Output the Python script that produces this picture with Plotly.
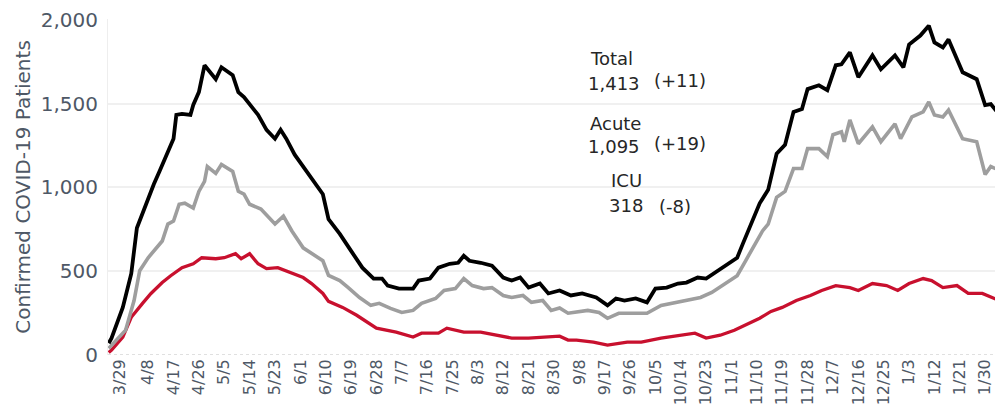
import plotly.graph_objects as go

# Дата -> пациенты
total_dates = [
    "2020-03-25", "2020-03-26", "2020-03-30", "2020-04-02", "2020-04-04", "2020-04-08",
    "2020-04-10", "2020-04-12", "2020-04-15", "2020-04-17", "2020-04-18", "2020-04-20",
    "2020-04-23", "2020-04-24", "2020-04-26", "2020-04-28", "2020-05-02", "2020-05-04",
    "2020-05-08", "2020-05-10", "2020-05-12", "2020-05-17", "2020-05-20", "2020-05-23",
    "2020-05-25", "2020-05-27", "2020-05-30", "2020-06-04", "2020-06-09", "2020-06-11",
    "2020-06-15", "2020-06-19", "2020-06-23", "2020-06-27", "2020-06-30", "2020-07-02",
    "2020-07-06", "2020-07-11", "2020-07-13", "2020-07-17", "2020-07-20", "2020-07-24",
    "2020-07-27", "2020-07-29", "2020-07-31", "2020-08-04", "2020-08-08", "2020-08-12",
    "2020-08-15", "2020-08-18", "2020-08-21", "2020-08-25", "2020-08-28", "2020-09-01",
    "2020-09-05", "2020-09-09", "2020-09-14", "2020-09-18", "2020-09-21", "2020-09-24",
    "2020-09-28", "2020-10-02", "2020-10-05", "2020-10-09", "2020-10-13", "2020-10-16",
    "2020-10-20", "2020-10-23", "2020-10-27", "2020-10-30", "2020-11-03", "2020-11-05",
    "2020-11-08", "2020-11-11", "2020-11-14", "2020-11-17", "2020-11-20", "2020-11-23",
    "2020-11-26", "2020-11-28", "2020-12-02", "2020-12-05", "2020-12-08", "2020-12-10",
    "2020-12-13", "2020-12-16", "2020-12-21", "2020-12-24", "2020-12-29", "2021-01-01",
    "2021-01-03", "2021-01-07", "2021-01-10", "2021-01-12", "2021-01-15", "2021-01-17",
    "2021-01-22", "2021-01-27", "2021-01-30", "2021-02-01", "2021-02-05",
]
total_values = [
    70, 100, 284, 485, 757, 935,
    1018, 1095, 1213, 1290, 1432, 1438,
    1432, 1491, 1568, 1728, 1645, 1716,
    1669, 1568, 1538, 1432, 1343, 1290,
    1343, 1290, 1195, 1077, 959, 810,
    722, 621, 521, 456, 456, 414,
    396, 396, 444, 456, 521, 544,
    550, 592, 562, 550, 533, 462,
    444, 462, 402, 426, 367, 385,
    355, 367, 343, 296, 337, 325,
    337, 314, 396, 402, 426, 432,
    462, 456, 503, 533, 580, 663,
    781, 905, 985, 1200, 1254, 1450,
    1467, 1586, 1609, 1580, 1728, 1734,
    1805, 1657, 1787, 1704, 1787, 1716,
    1852, 1905, 1964, 1864, 1834, 1882,
    1686, 1645, 1491, 1497, 1413,
]

acute_dates = [
    "2020-03-25", "2020-03-26", "2020-03-31", "2020-04-03", "2020-04-05", "2020-04-08",
    "2020-04-10", "2020-04-13", "2020-04-15", "2020-04-17", "2020-04-19", "2020-04-21",
    "2020-04-24", "2020-04-26", "2020-04-28", "2020-04-29", "2020-05-02", "2020-05-04",
    "2020-05-08", "2020-05-10", "2020-05-12", "2020-05-14", "2020-05-18", "2020-05-23",
    "2020-05-26", "2020-05-29", "2020-06-02", "2020-06-05", "2020-06-09", "2020-06-11",
    "2020-06-15", "2020-06-18", "2020-06-22", "2020-06-26", "2020-06-29", "2020-07-03",
    "2020-07-07", "2020-07-11", "2020-07-14", "2020-07-19", "2020-07-22", "2020-07-26",
    "2020-07-29", "2020-08-01", "2020-08-05", "2020-08-08", "2020-08-12", "2020-08-15",
    "2020-08-19", "2020-08-22", "2020-08-26", "2020-08-29", "2020-09-01", "2020-09-04",
    "2020-09-06", "2020-09-11", "2020-09-15", "2020-09-18", "2020-09-22", "2020-09-27",
    "2020-10-02", "2020-10-07", "2020-10-11", "2020-10-16", "2020-10-21", "2020-10-25",
    "2020-10-30", "2020-11-03", "2020-11-06", "2020-11-10", "2020-11-12", "2020-11-14",
    "2020-11-17", "2020-11-20", "2020-11-23", "2020-11-26", "2020-11-28", "2020-12-02",
    "2020-12-05", "2020-12-07", "2020-12-10", "2020-12-11", "2020-12-13", "2020-12-16",
    "2020-12-21", "2020-12-24", "2020-12-29", "2020-12-31", "2021-01-04", "2021-01-08",
    "2021-01-10", "2021-01-12", "2021-01-15", "2021-01-17", "2021-01-22", "2021-01-27",
    "2021-01-30", "2021-02-01", "2021-02-05",
]
acute_values = [
    40, 59, 148, 325, 503, 580,
    621, 680, 781, 799, 899, 905,
    876, 976, 1036, 1124, 1083, 1136,
    1095, 976, 959, 899, 870, 781,
    828, 740, 639, 604, 562, 475,
    444, 402, 343, 296, 308, 278,
    254, 266, 308, 337, 385, 396,
    456, 414, 396, 402, 355, 343,
    355, 314, 325, 266, 280, 249,
    254, 266, 254, 219, 249, 249,
    249, 296, 308, 325, 343, 373,
    426, 473, 562, 680, 740, 780,
    940, 976, 1112, 1112, 1231, 1231,
    1183, 1314, 1331, 1272, 1402, 1260,
    1361, 1272, 1379, 1290, 1420, 1450,
    1509, 1432, 1420, 1461, 1290, 1272,
    1077, 1124, 1095,
]

icu_dates = [
    "2020-03-25", "2020-03-26", "2020-03-30", "2020-04-02", "2020-04-06", "2020-04-09",
    "2020-04-13", "2020-04-16", "2020-04-20", "2020-04-24", "2020-04-27", "2020-05-02",
    "2020-05-05", "2020-05-09", "2020-05-11", "2020-05-14", "2020-05-17", "2020-05-20",
    "2020-05-24", "2020-05-27", "2020-06-02", "2020-06-05", "2020-06-09", "2020-06-11",
    "2020-06-16", "2020-06-21", "2020-06-25", "2020-06-28", "2020-07-05", "2020-07-11",
    "2020-07-14", "2020-07-20", "2020-07-23", "2020-07-29", "2020-08-04", "2020-08-10",
    "2020-08-15", "2020-08-21", "2020-08-27", "2020-09-01", "2020-09-04", "2020-09-07",
    "2020-09-13", "2020-09-18", "2020-09-25", "2020-09-30", "2020-10-07", "2020-10-13",
    "2020-10-19", "2020-10-23", "2020-10-28", "2020-11-02", "2020-11-06", "2020-11-11",
    "2020-11-15", "2020-11-19", "2020-11-24", "2020-11-29", "2020-12-03", "2020-12-08",
    "2020-12-13", "2020-12-16", "2020-12-21", "2020-12-26", "2020-12-30", "2021-01-03",
    "2021-01-08", "2021-01-11", "2021-01-15", "2021-01-20", "2021-01-24", "2021-01-29",
    "2021-02-05",
]
icu_values = [
    15, 30, 107, 225, 308, 367,
    432, 473, 521, 544, 580, 574,
    580, 604, 574, 604, 544, 515,
    521, 503, 462, 426, 367, 320,
    284, 237, 195, 160, 136, 107,
    130, 130, 160, 136, 136, 118,
    101, 101, 107, 112, 89, 89,
    77, 59, 77, 77, 101, 118,
    130, 101, 118, 148, 178, 219,
    260, 284, 325, 355, 385, 414,
    402, 385, 426, 414, 385, 426,
    456, 444, 402, 414, 367, 367,
    318,
]

tick_dates = [
    "2020-03-29", "2020-04-08", "2020-04-17", "2020-04-26", "2020-05-05", "2020-05-14",
    "2020-05-23", "2020-06-01", "2020-06-10", "2020-06-19", "2020-06-28", "2020-07-07",
    "2020-07-16", "2020-07-25", "2020-08-03", "2020-08-12", "2020-08-21", "2020-08-30",
    "2020-09-08", "2020-09-17", "2020-09-26", "2020-10-05", "2020-10-14", "2020-10-23",
    "2020-11-01", "2020-11-10", "2020-11-19", "2020-11-28", "2020-12-07", "2020-12-16",
    "2020-12-25", "2021-01-03", "2021-01-12", "2021-01-21", "2021-01-30",
]
tick_text = [
    "3/29", "4/8", "4/17", "4/26", "5/5", "5/14", "5/23", "6/1", "6/10", "6/19",
    "6/28", "7/7", "7/16", "7/25", "8/3", "8/12", "8/21", "8/30", "9/8", "9/17",
    "9/26", "10/5", "10/14", "10/23", "11/1", "11/10", "11/19", "11/28", "12/7",
    "12/16", "12/25", "1/3", "1/12", "1/21", "1/30",
]

# страница имеет отступ body 8px, поэтому фигура чуть меньше окна
W, H = 995, 403
L, R, T, B = 100, 0, 11, 56
FONT = "DejaVu Sans"
TICK_COLOR = "#4e5866"

fig = go.Figure()
fig.add_trace(go.Scatter(x=icu_dates, y=icu_values, mode="lines",
                         line=dict(color="#c8102e", width=3.3), name="ICU"))
fig.add_trace(go.Scatter(x=acute_dates, y=acute_values, mode="lines",
                         line=dict(color="#9e9e9e", width=3.6), name="Acute"))
fig.add_trace(go.Scatter(x=total_dates, y=total_values, mode="lines",
                         line=dict(color="#000000", width=3.8), name="Total"))


def px_to_paper(px, py):
    # px, py - координаты в окне браузера
    px, py = px - 8, py - 8
    return (px - L) / (W - L - R), (H - B - py) / (H - T - B)


labels = [
    ("Total", 588, 58), ("1,413", 586, 83), ("(+11)", 652, 80),
    ("Acute", 588, 123), ("1,095", 586, 146), ("(+19)", 652, 143),
    ("ICU", 609, 181), ("318", 607, 205), ("(-8)", 657, 206),
]
for text, px, py in labels:
    ax, ay = px_to_paper(px, py)
    fig.add_annotation(
        text=text, x=ax, y=ay, xref="paper", yref="paper",
        xanchor="left", yanchor="middle", showarrow=False,
        font=dict(family=FONT, size=18, color="#262626"),
    )

# пунктирная базовая линия
fig.add_shape(type="line", xref="paper", yref="y", x0=0, x1=1, y0=0, y1=0,
              line=dict(color="#d6d6d6", width=1.5, dash="dot"))

fig.update_layout(
    width=W, height=H,
    margin=dict(l=L, r=R, t=T, b=B),
    plot_bgcolor="white", paper_bgcolor="white",
    showlegend=False,
    font=dict(family=FONT, color=TICK_COLOR),
    xaxis=dict(
        type="date",
        range=["2020-03-24 18:00", "2021-02-05 08:00"],
        tickvals=tick_dates, ticktext=tick_text,
        tickangle=-90, tickfont=dict(size=16, color=TICK_COLOR),
        ticklabeloverflow="allow",
        showgrid=False, zeroline=False, showline=False,
        automargin=False,
    ),
    yaxis=dict(
        range=[0, 2004],
        tickvals=[0, 500, 1000, 1500, 2000],
        ticktext=["0", "500", "1,000", "1,500", "2,000"],
        tickfont=dict(size=20, color=TICK_COLOR),
        ticklabeloverflow="allow", ticklabelstandoff=5,
        title=dict(text="Confirmed COVID-19 Patients",
                   font=dict(size=20, color=TICK_COLOR), standoff=4),
        showgrid=True, gridcolor="#f0f0f0", gridwidth=1.5,
        zeroline=False, showline=True, linecolor="#eeeeee", linewidth=1,
        ticks="", automargin=False,
    ),
)

fig.write_html("out.html")
